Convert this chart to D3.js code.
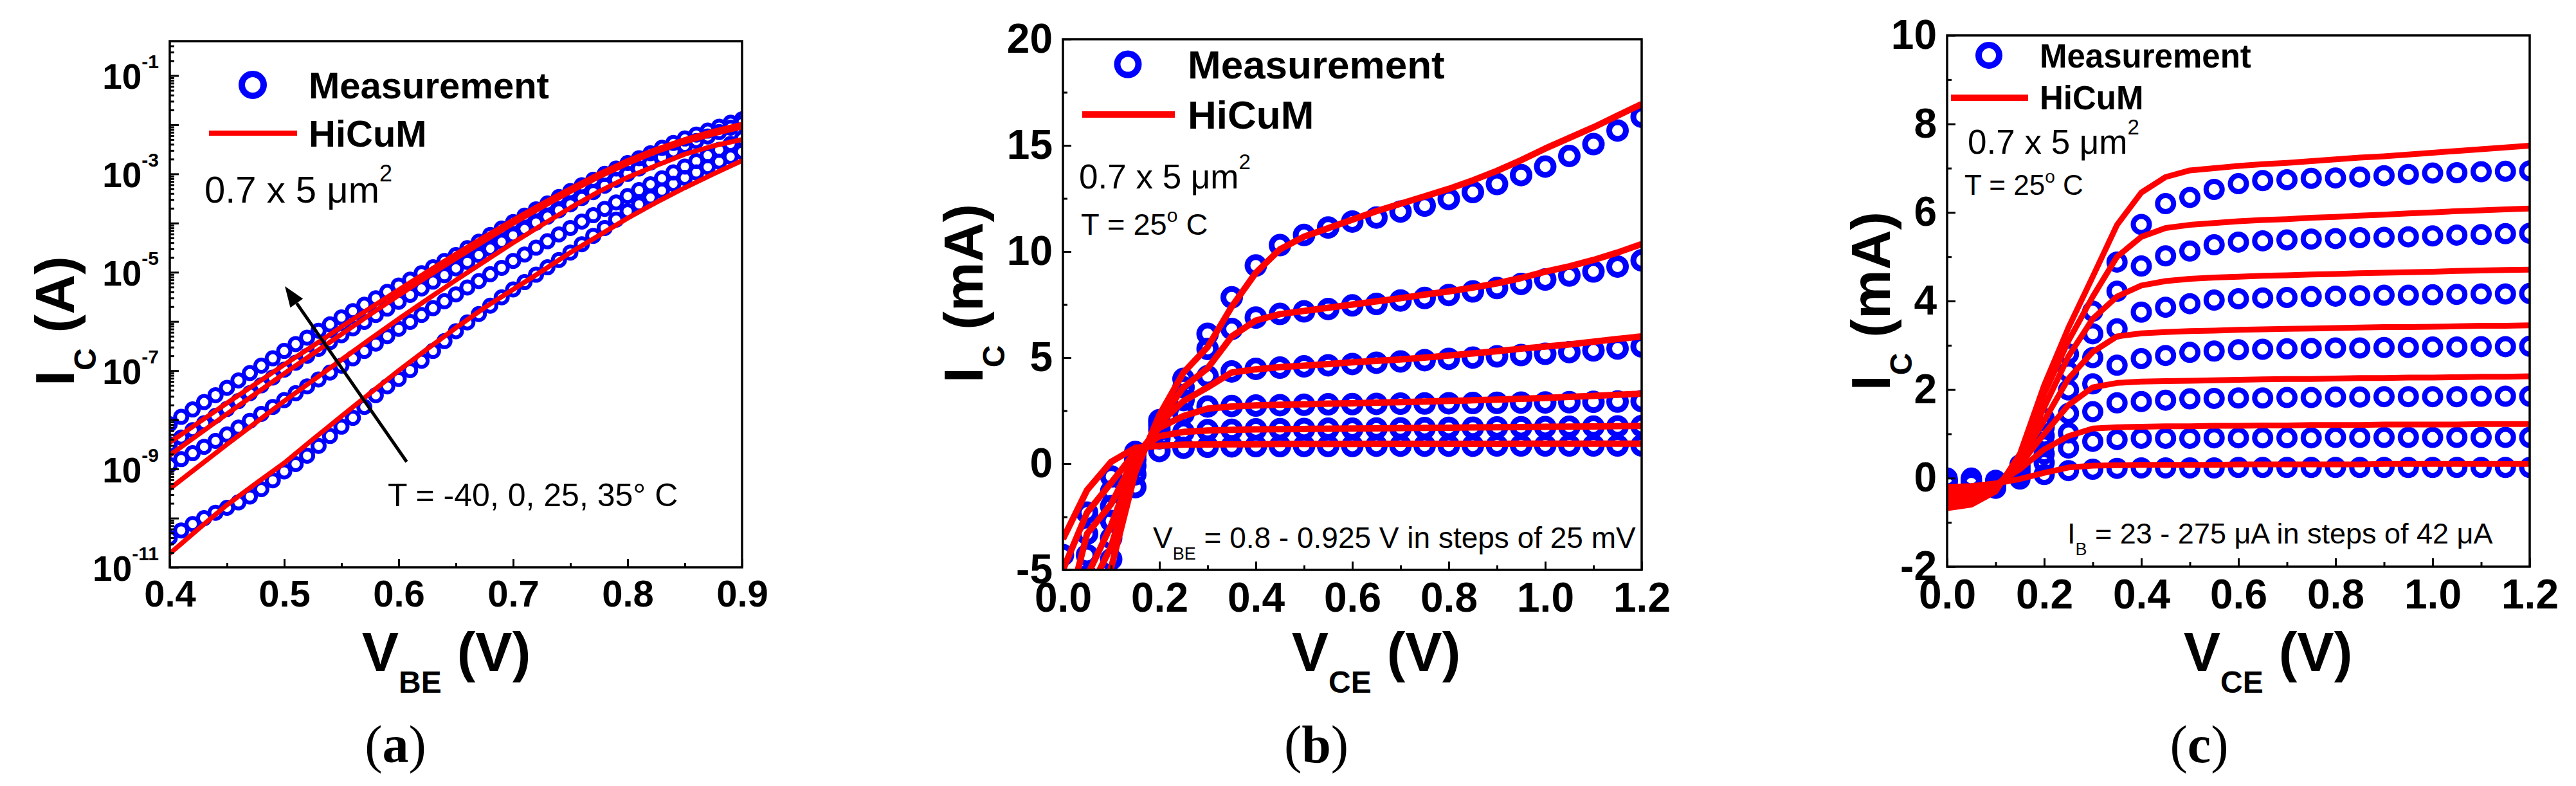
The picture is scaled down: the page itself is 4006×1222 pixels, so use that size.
<!DOCTYPE html>
<html>
<head>
<meta charset="utf-8">
<script src="https://cdn.jsdelivr.net/npm/d3@7"></script>
<style>
  html, body { margin: 0; padding: 0; background: #fff; }
  svg { display: block; }
  text { white-space: pre; }
</style>
</head>
<body>
<div id="chart"></div>
<script>
// ---------------- data (a): Ic vs VBE, log10(Ic / A) ----------------
const vbeMeas = [0.40, 0.41, 0.42, 0.43, 0.44, 0.45, 0.46, 0.47, 0.48, 0.49,
                 0.50, 0.51, 0.52, 0.53, 0.54, 0.55, 0.56, 0.57, 0.58, 0.59,
                 0.60, 0.61, 0.62, 0.63, 0.64, 0.65, 0.66, 0.67, 0.68, 0.69,
                 0.70, 0.71, 0.72, 0.73, 0.74, 0.75, 0.76, 0.77, 0.78, 0.79,
                 0.80, 0.81, 0.82, 0.83, 0.84, 0.85, 0.86, 0.87, 0.88, 0.89, 0.90];
const vbeModel = [0.400, 0.425, 0.450, 0.475, 0.500, 0.525, 0.550, 0.575, 0.600, 0.625,
                  0.650, 0.675, 0.700, 0.725, 0.750, 0.775, 0.800, 0.825, 0.850, 0.875, 0.900];
const tempsA = ["-40", "0", "25", "35"];

const logMeasM40 = [-10.40, -10.25, -10.12, -10.00, -9.89, -9.79, -9.68, -9.56, -9.41, -9.23,
                    -9.05, -8.90, -8.73, -8.53, -8.33, -8.14, -7.96, -7.74, -7.50, -7.32,
                    -7.17, -6.99, -6.80, -6.60, -6.40, -6.20, -6.02, -5.85, -5.68, -5.51,
                    -5.35, -5.20, -5.05, -4.90, -4.75, -4.60, -4.43, -4.26, -4.10, -3.93,
                    -3.76, -3.62, -3.48, -3.34, -3.20, -3.08, -2.97, -2.86, -2.75, -2.65, -2.55];
const logMeas0 = [-8.92, -8.80, -8.68, -8.55, -8.43, -8.30, -8.16, -8.02, -7.88, -7.74,
                  -7.60, -7.46, -7.32, -7.18, -7.04, -6.90, -6.75, -6.60, -6.45, -6.30,
                  -6.15, -6.01, -5.87, -5.73, -5.59, -5.45, -5.31, -5.18, -5.04, -4.91,
                  -4.77, -4.64, -4.50, -4.37, -4.23, -4.10, -3.97, -3.84, -3.71, -3.58,
                  -3.45, -3.33, -3.21, -3.09, -2.97, -2.85, -2.74, -2.62, -2.51, -2.39, -2.28];
const logMeas25 = [-8.50, -8.36, -8.21, -8.07, -7.92, -7.78, -7.62, -7.46, -7.30, -7.14,
                   -6.98, -6.84, -6.70, -6.56, -6.42, -6.28, -6.14, -6.01, -5.87, -5.74,
                   -5.60, -5.46, -5.33, -5.19, -5.06, -4.92, -4.79, -4.65, -4.52, -4.38,
                   -4.25, -4.12, -3.99, -3.87, -3.74, -3.62, -3.49, -3.37, -3.24, -3.12,
                   -3.00, -2.89, -2.77, -2.66, -2.54, -2.43, -2.33, -2.24, -2.15, -2.06, -1.97];
const logMeas35 = [-8.09, -7.94, -7.79, -7.64, -7.50, -7.35, -7.20, -7.05, -6.90, -6.75,
                   -6.60, -6.46, -6.33, -6.19, -6.06, -5.92, -5.79, -5.66, -5.53, -5.40,
                   -5.27, -5.15, -5.02, -4.90, -4.77, -4.65, -4.51, -4.38, -4.24, -4.11,
                   -3.98, -3.85, -3.72, -3.60, -3.47, -3.35, -3.23, -3.12, -3.00, -2.89,
                   -2.78, -2.68, -2.58, -2.47, -2.37, -2.28, -2.20, -2.12, -2.04, -1.96, -1.89];

const logModelM40 = [-10.72, -10.22, -9.73, -9.30, -8.88, -8.40, -7.93, -7.46, -7.00, -6.56,
                     -6.13, -5.72, -5.35, -4.98, -4.60, -4.25, -3.90, -3.58, -3.28, -3.00, -2.73];
const logModel0 = [-9.40, -8.95, -8.50, -8.06, -7.62, -7.20, -6.78, -6.36, -5.95, -5.55,
                   -5.16, -4.78, -4.40, -4.04, -3.69, -3.36, -3.07, -2.83, -2.60, -2.43, -2.30];
const logModel25 = [-8.72, -8.30, -7.88, -7.47, -7.06, -6.66, -6.26, -5.86, -5.47, -5.09,
                    -4.72, -4.36, -4.01, -3.68, -3.36, -3.06, -2.79, -2.55, -2.35, -2.19, -2.05];
const logModel35 = [-8.46, -8.06, -7.66, -7.27, -6.88, -6.50, -6.11, -5.73, -5.36, -4.99,
                    -4.63, -4.28, -3.94, -3.61, -3.30, -3.00, -2.73, -2.50, -2.30, -2.13, -1.99];

// ---------------- data (b) and (c): Ic (mA) vs VCE ----------------
const vce = [0, 0.05, 0.1, 0.15, 0.2, 0.25, 0.3, 0.35, 0.4, 0.45, 0.5, 0.55, 0.6,
             0.65, 0.7, 0.75, 0.8, 0.85, 0.9, 0.95, 1.0, 1.05, 1.1, 1.15, 1.2];

// (b) VBE = 0.8 ... 0.925 V
const measB800 = [-4.3, -2.3, -0.6, 0.55, 0.6, 0.75, 0.8, 0.82, 0.83, 0.83, 0.84, 0.84, 0.84,
                  0.85, 0.85, 0.85, 0.85, 0.85, 0.86, 0.86, 0.86, 0.86, 0.86, 0.86, 0.86];
const measB825 = [-5.8, -3.3, -1.3, 0.45, 1.2, 1.5, 1.58, 1.6, 1.62, 1.63, 1.64, 1.65, 1.65,
                  1.66, 1.67, 1.68, 1.69, 1.7, 1.71, 1.72, 1.73, 1.74, 1.75, 1.76, 1.77];
const measB850 = [-7.5, -4.3, -2.0, 0.2, 1.6, 2.35, 2.7, 2.72, 2.74, 2.76, 2.78, 2.8, 2.81,
                  2.82, 2.83, 2.84, 2.85, 2.86, 2.87, 2.88, 2.89, 2.9, 2.92, 2.93, 2.95];
const measB875 = [-9.0, -5.3, -2.7, -0.1, 1.8, 3.0, 4.12, 4.35, 4.47, 4.53, 4.59, 4.64, 4.7,
                  4.76, 4.82, 4.88, 4.94, 5.0, 5.06, 5.12, 5.18, 5.26, 5.34, 5.43, 5.53];
const measB900 = [-10.5, -6.3, -3.5, -0.5, 1.95, 3.6, 5.41, 6.35, 6.89, 7.06, 7.18, 7.29, 7.46,
                  7.53, 7.69, 7.81, 7.95, 8.12, 8.28, 8.47, 8.68, 8.87, 9.06, 9.29, 9.58];
const measB925 = [-12.0, -7.5, -4.5, -1.1, 2.05, 4.0, 6.12, 7.84, 9.34, 10.3, 10.78, 11.13, 11.41,
                  11.6, 11.88, 12.16, 12.47, 12.8, 13.18, 13.6, 14.0, 14.5, 15.06, 15.7, 16.35];

const modelB800 = [-3.55, -1.24, 0.09, 0.75, 0.85, 0.9, 0.91, 0.92, 0.92, 0.93, 0.93, 0.93, 0.93,
                   0.94, 0.94, 0.94, 0.94, 0.94, 0.94, 0.95, 0.95, 0.95, 0.95, 0.95, 0.95];
const modelB825 = [-5.0, -2.3, -0.9, 0.55, 1.3, 1.5, 1.57, 1.6, 1.62, 1.63, 1.64, 1.65, 1.66,
                   1.67, 1.68, 1.69, 1.7, 1.71, 1.72, 1.73, 1.74, 1.75, 1.76, 1.77, 1.78];
const modelB850 = [-7.77, -3.3, -1.9, 0.35, 1.7, 2.25, 2.6, 2.7, 2.75, 2.78, 2.8, 2.83, 2.85,
                   2.88, 2.9, 2.93, 2.96, 2.99, 3.02, 3.06, 3.1, 3.15, 3.2, 3.25, 3.3];
const modelB875 = [-10.0, -5.29, -2.9, 0.1, 1.9, 2.95, 3.6, 4.3, 4.45, 4.55, 4.62, 4.7, 4.78,
                   4.85, 4.92, 5.0, 5.1, 5.2, 5.3, 5.42, 5.52, 5.62, 5.75, 5.88, 6.0];
const modelB900 = [-12.0, -6.2, -3.9, -0.15, 2.0, 3.6, 4.5, 6.0, 6.75, 7.05, 7.2, 7.35, 7.5,
                   7.65, 7.8, 7.97, 8.12, 8.3, 8.5, 8.75, 9.05, 9.3, 9.6, 9.95, 10.35];
const modelB925 = [-14.0, -8.0, -4.9, -0.4, 2.3, 4.3, 5.5, 7.4, 9.0, 10.1, 10.7, 11.1, 11.5,
                   11.9, 12.25, 12.6, 12.95, 13.35, 13.8, 14.3, 14.85, 15.35, 15.85, 16.4, 16.95];

// (c) IB = 23 ... 275 uA
const measC23 = [0.0, 0.0, -0.05, -0.02, 0.08, 0.17, 0.2, 0.22, 0.23, 0.23, 0.23, 0.23, 0.24,
                 0.24, 0.24, 0.24, 0.24, 0.24, 0.24, 0.24, 0.24, 0.24, 0.24, 0.24, 0.24];
const measC65 = [-0.02, -0.02, -0.08, 0.05, 0.35, 0.68, 0.83, 0.87, 0.9, 0.9, 0.9, 0.91, 0.91,
                 0.91, 0.91, 0.91, 0.92, 0.92, 0.92, 0.92, 0.92, 0.92, 0.92, 0.92, 0.92];
const measC107 = [-0.04, -0.04, -0.11, 0.1, 0.55, 1.02, 1.5, 1.7, 1.73, 1.76, 1.79, 1.8, 1.81,
                  1.81, 1.82, 1.82, 1.83, 1.83, 1.84, 1.84, 1.84, 1.84, 1.85, 1.85, 1.85];
const measC149 = [-0.06, -0.06, -0.14, 0.15, 0.75, 1.46, 2.13, 2.55, 2.7, 2.77, 2.84, 2.87, 2.9,
                  2.91, 2.92, 2.93, 2.94, 2.94, 2.95, 2.95, 2.96, 2.96, 2.97, 2.97, 2.98];
const measC191 = [-0.08, -0.08, -0.17, 0.2, 0.95, 1.99, 2.72, 3.37, 3.75, 3.86, 3.94, 4.02, 4.05,
                  4.07, 4.08, 4.1, 4.11, 4.12, 4.13, 4.13, 4.14, 4.15, 4.16, 4.16, 4.17];
const measC233 = [-0.1, -0.1, -0.2, 0.25, 1.15, 2.4, 3.26, 4.22, 4.79, 5.02, 5.13, 5.27, 5.33,
                  5.36, 5.38, 5.4, 5.41, 5.43, 5.44, 5.45, 5.47, 5.49, 5.5, 5.52, 5.53];
const measC275 = [-0.12, -0.12, -0.23, 0.3, 1.35, 2.8, 3.77, 4.88, 5.73, 6.2, 6.34, 6.52, 6.65,
                  6.72, 6.74, 6.77, 6.78, 6.8, 6.83, 6.86, 6.89, 6.9, 6.92, 6.93, 6.94];

const modelC23 = [-0.2, -0.18, -0.12, -0.02, 0.12, 0.24, 0.28, 0.29, 0.3, 0.3, 0.3, 0.3, 0.31,
                  0.31, 0.31, 0.31, 0.31, 0.31, 0.32, 0.32, 0.32, 0.32, 0.32, 0.32, 0.32];
const modelC65 = [-0.28, -0.26, -0.15, 0.2, 0.65, 0.95, 1.12, 1.15, 1.16, 1.17, 1.17, 1.18, 1.18,
                  1.19, 1.19, 1.2, 1.2, 1.2, 1.21, 1.21, 1.21, 1.21, 1.22, 1.22, 1.22];
const modelC107 = [-0.36, -0.33, -0.18, 0.3, 1.0, 1.65, 2.05, 2.15, 2.18, 2.19, 2.2, 2.21, 2.22,
                   2.23, 2.24, 2.24, 2.25, 2.26, 2.26, 2.27, 2.27, 2.28, 2.29, 2.29, 2.3];
const modelC149 = [-0.44, -0.4, -0.21, 0.4, 1.3, 2.25, 2.85, 3.2, 3.27, 3.3, 3.32, 3.33, 3.35,
                   3.36, 3.37, 3.38, 3.39, 3.4, 3.41, 3.41, 3.42, 3.43, 3.44, 3.44, 3.45];
const modelC191 = [-0.52, -0.47, -0.24, 0.45, 1.6, 2.75, 3.6, 4.1, 4.35, 4.45, 4.5, 4.53, 4.55,
                   4.57, 4.58, 4.6, 4.61, 4.63, 4.64, 4.65, 4.66, 4.68, 4.69, 4.7, 4.71];
const modelC233 = [-0.6, -0.54, -0.27, 0.5, 1.9, 3.1, 4.1, 5.0, 5.45, 5.65, 5.72, 5.76, 5.8,
                   5.83, 5.85, 5.88, 5.9, 5.93, 5.95, 5.98, 6.0, 6.03, 6.05, 6.07, 6.09];
const modelC275 = [-0.68, -0.6, -0.3, 0.55, 2.1, 3.4, 4.55, 5.72, 6.45, 6.8, 6.95, 7.0, 7.05,
                   7.09, 7.12, 7.16, 7.2, 7.24, 7.27, 7.31, 7.35, 7.39, 7.43, 7.47, 7.51];

// ---------------- tick labels ----------------
const xTicksA = [0.4, 0.5, 0.6, 0.7, 0.8, 0.9];
const xMinorA = [0.45, 0.55, 0.65, 0.75, 0.85];
const yLabelExpA = [-1, -3, -5, -7, -9, -11];
const xTicksBC = [0, 0.2, 0.4, 0.6, 0.8, 1.0, 1.2];
const xMinorBC = [0.1, 0.3, 0.5, 0.7, 0.9, 1.1];
const yTicksB = [-5, 0, 5, 10, 15, 20];
const yMinorB = [-2.5, 2.5, 7.5, 12.5, 17.5];
const yTicksC = [-2, 0, 2, 4, 6, 8, 10];
const yMinorC = [-1, 1, 3, 5, 7, 9];

// ---------------- drawing ----------------
const W = 4006, H = 1222;
const BLUE = "#0000ff", RED = "#ff0000";
const SANS = "'Liberation Sans', Arial, sans-serif";
const SERIF = "'Liberation Serif', 'Times New Roman', serif";

const svg = d3.select("#chart").append("svg")
    .attr("width", W)
    .attr("height", H)
    .style("font-family", SANS);
svg.append("rect").attr("width", W).attr("height", H).attr("fill", "#fff");

// text with sub/superscript parts
function richText(g, x, y, parts, o) {
    const t = g.append("text")
        .attr("x", x).attr("y", y)
        .attr("font-size", o.size)
        .attr("font-weight", o.bold ? "bold" : "normal")
        .attr("text-anchor", o.anchor || "start")
        .style("font-family", o.family || SANS);
    if (o.rotate) t.attr("transform", `rotate(-90,${x},${y})`);
    let off = 0;
    parts.forEach(p => {
        const target = p.sub ? o.subDy : p.sup ? -o.supDy : 0;
        t.append("tspan")
            .text(p.t)
            .attr("dy", target - off)
            .attr("font-size", (p.sub || p.sup) ? o.small : o.size)
            .attr("font-weight", p.bold ? "bold" : null);
        off = target;
    });
    return t;
}

function makePanel(id, x, y) {
    const g = svg.append("g");
    const [x0, x1] = x.range(), [yb, yt] = y.range();
    svg.append("clipPath").attr("id", id).append("rect")
        .attr("x", x0).attr("y", yt).attr("width", x1 - x0).attr("height", yb - yt);
    const plot = g.append("g").attr("clip-path", `url(#${id})`);
    return { g, plot };
}

function styleAxis(sel, fs) {
    sel.attr("font-family", null).attr("font-size", null);
    sel.select(".domain").remove();
    sel.selectAll("line").attr("stroke-width", 3);
    sel.selectAll("text")
        .attr("font-size", fs)
        .attr("font-weight", "bold")
        .style("font-family", SANS)
        .attr("fill", "#000");
}

function linearAxes(g, x, y, cfg) {
    const yb = y.range()[0], xl = x.range()[0];
    g.append("g").attr("transform", `translate(0,${yb})`)
        .call(d3.axisBottom(x).tickValues(cfg.xMinor).tickSize(-7).tickFormat(""))
        .call(s => styleAxis(s, cfg.fs));
    g.append("g").attr("transform", `translate(0,${yb})`)
        .call(d3.axisBottom(x).tickValues(cfg.xMajor).tickSize(-13).tickPadding(20)
            .tickFormat(cfg.xFormat))
        .call(s => styleAxis(s, cfg.fs));
    if (cfg.yMajor) {
        g.append("g").attr("transform", `translate(${xl},0)`)
            .call(d3.axisLeft(y).tickValues(cfg.yMinor).tickSize(-7).tickFormat(""))
            .call(s => styleAxis(s, cfg.fs));
        g.append("g").attr("transform", `translate(${xl},0)`)
            .call(d3.axisLeft(y).tickValues(cfg.yMajor).tickSize(-13).tickPadding(16)
                .tickFormat(d => String(d)))
            .call(s => styleAxis(s, cfg.fs));
    }
}

function frame(g, x, y) {
    const [x0, x1] = x.range(), [yb, yt] = y.range();
    g.append("rect")
        .attr("x", x0).attr("y", yt)
        .attr("width", x1 - x0).attr("height", yb - yt)
        .attr("fill", "none").attr("stroke", "#000").attr("stroke-width", 3.5);
}

function legend(g, cx, cy, r, sw, lx0, lx1, ly, lw, tx, ty1, ty2, fs) {
    g.append("circle").attr("cx", cx).attr("cy", cy).attr("r", r)
        .attr("fill", "none").attr("stroke", BLUE).attr("stroke-width", sw);
    g.append("text").attr("x", tx).attr("y", ty1).attr("font-size", fs)
        .attr("font-weight", "bold").text("Measurement");
    g.append("line").attr("x1", lx0).attr("x2", lx1).attr("y1", ly).attr("y2", ly)
        .attr("stroke", RED).attr("stroke-width", lw);
    g.append("text").attr("x", tx).attr("y", ty2).attr("font-size", fs)
        .attr("font-weight", "bold").text("HiCuM");
}

function axisTitles(g, xt, yt) {
    richText(g, xt.x, 1043, [{ t: "V" }, { t: xt.sub, sub: true }, { t: " (V)" }],
        { size: 86, small: 48, subDy: 34, bold: true, anchor: "middle" });
    richText(g, yt.x, yt.y, [{ t: "I" }, { t: "C", sub: true }, { t: yt.unit }],
        { size: 86, small: 48, subDy: 34, bold: true, anchor: "middle", rotate: true });
}

function caption(letter, cx) {
    richText(svg, cx, 1185, [{ t: "(" }, { t: letter, bold: true }, { t: ")" }],
        { size: 82, anchor: "middle", family: SERIF });
}

function drawSeries(plot, x, y, xs, meas, model, xsModel, r, sw, lw, yv) {
    meas.forEach(s => {
        plot.append("g").selectAll("circle")
            .data(s)
            .enter()
            .append("circle")
            .attr("cx", (d, i) => x(xs[i]))
            .attr("cy", d => y(yv(d)))
            .attr("r", r)
            .attr("fill", "none")
            .attr("stroke", BLUE)
            .attr("stroke-width", sw);
    });
    const line = d3.line()
        .x((d, i) => x(xsModel[i]))
        .y(d => y(yv(d)));
    model.forEach(s => {
        plot.append("path")
            .attr("d", line(s))
            .attr("fill", "none")
            .attr("stroke", RED)
            .attr("stroke-width", lw)
            .attr("stroke-linejoin", "round");
    });
}

// ---------- panel (a) ----------
{
    const x = d3.scaleLinear().domain([0.4, 0.9]).range([264, 1154]);
    const y = d3.scaleLog().domain([1e-11, 0.5]).range([882, 64]);
    const { g, plot } = makePanel("clipA", x, y);
    const pow = v => Math.pow(10, v);

    drawSeries(plot, x, y, vbeMeas,
        [logMeasM40, logMeas0, logMeas25, logMeas35],
        [logModelM40, logModel0, logModel25, logModel35],
        vbeModel, 9.5, 6, 7.5, pow);

    // arrow: increasing temperature
    const ax0 = x(0.607), ay0 = y(pow(-8.855));
    const ax1 = x(0.5006), ay1 = y(pow(-5.285));
    const ang = Math.atan2(ay1 - ay0, ax1 - ax0);
    const hl = 32, hw = 12;
    const bx = ax1 - hl * Math.cos(ang), by = ay1 - hl * Math.sin(ang);
    g.append("line").attr("x1", ax0).attr("y1", ay0).attr("x2", bx).attr("y2", by)
        .attr("stroke", "#000").attr("stroke-width", 5);
    g.append("polygon")
        .attr("points", [
            [ax1, ay1],
            [bx + hw * Math.sin(ang), by - hw * Math.cos(ang)],
            [bx - hw * Math.sin(ang), by + hw * Math.cos(ang)]
        ].map(p => p.join(",")).join(" "))
        .attr("fill", "#000");

    linearAxes(g, x, y, { xMajor: xTicksA, xMinor: xMinorA, fs: 58, xFormat: d3.format(".1f") });

    // log y axis
    const majors = [], minors = [];
    for (let k = -11; k <= -1; k++) {
        majors.push(pow(k));
        for (let m = 2; m <= 9; m++) if (m * pow(k) < 0.5) minors.push(m * pow(k));
    }
    g.append("g").attr("transform", "translate(264,0)")
        .call(d3.axisLeft(y).tickValues(minors).tickSize(-7).tickFormat(""))
        .call(s => styleAxis(s, 55));
    g.append("g").attr("transform", "translate(264,0)")
        .call(d3.axisLeft(y).tickValues(majors).tickSize(-14).tickFormat(""))
        .call(s => styleAxis(s, 55));
    yLabelExpA.forEach(e => {
        richText(g, 247, y(pow(e)) + 21, [{ t: "10" }, { t: String(e), sup: true }],
            { size: 55, small: 30, supDy: 32, bold: true, anchor: "end" });
    });

    frame(g, x, y);
    legend(g, 393, 132, 17, 10, 325, 462, 207, 8, 480, 153, 228, 58);
    richText(g, 318, 315, [{ t: "0.7 x 5 μm" }, { t: "2", sup: true }],
        { size: 58, small: 36, supDy: 33 });
    g.append("text").attr("x", 603).attr("y", 787).attr("font-size", 50)
        .text("T = -40, 0, 25, 35° C");

    axisTitles(g, { x: 694, sub: "BE" }, { x: 115, y: 499, unit: " (A)" });
    caption("a", 615);
}

// ---------- panel (b) ----------
{
    const x = d3.scaleLinear().domain([0, 1.2]).range([1653, 2553]);
    const y = d3.scaleLinear().domain([-5, 20]).range([886, 61]);
    const { g, plot } = makePanel("clipB", x, y);

    drawSeries(plot, x, y, vce,
        [measB800, measB825, measB850, measB875, measB900, measB925],
        [modelB800, modelB825, modelB850, modelB875, modelB900, modelB925],
        vce, 13, 9, 10, d => d);

    linearAxes(g, x, y, {
        xMajor: xTicksBC, xMinor: xMinorBC, yMajor: yTicksB, yMinor: yMinorB,
        fs: 64, xFormat: d3.format(".1f")
    });
    frame(g, x, y);
    legend(g, 1754, 100, 16.5, 10, 1683, 1827, 178, 10, 1847, 122, 200, 62);
    richText(g, 1678, 293, [{ t: "0.7 x 5 μm" }, { t: "2", sup: true }],
        { size: 53, small: 33, supDy: 30 });
    richText(g, 1681, 365, [{ t: "T = 25" }, { t: "o", sup: true }, { t: " C" }],
        { size: 47, small: 30, supDy: 20 });
    richText(g, 1793, 852, [{ t: "V" }, { t: "BE", sub: true },
        { t: " = 0.8 - 0.925 V in steps of 25 mV" }],
        { size: 46, small: 27, subDy: 18 });

    axisTitles(g, { x: 2140, sub: "CE" }, { x: 1528, y: 456, unit: " (mA)" });
    caption("b", 2047);
}

// ---------- panel (c) ----------
{
    const x = d3.scaleLinear().domain([0, 1.2]).range([3028, 3934]);
    const y = d3.scaleLinear().domain([-2, 10]).range([881, 55]);
    const { g, plot } = makePanel("clipC", x, y);

    drawSeries(plot, x, y, vce,
        [measC23, measC65, measC107, measC149, measC191, measC233, measC275],
        [modelC23, modelC65, modelC107, modelC149, modelC191, modelC233, modelC275],
        vce, 12.5, 8, 9, d => d);

    linearAxes(g, x, y, {
        xMajor: xTicksBC, xMinor: xMinorBC, yMajor: yTicksC, yMinor: yMinorC,
        fs: 64, xFormat: d3.format(".1f")
    });
    frame(g, x, y);
    legend(g, 3093, 86, 16, 10, 3034, 3154, 152, 10, 3172, 105, 170, 51);
    richText(g, 3060, 239, [{ t: "0.7 x 5 μm" }, { t: "2", sup: true }],
        { size: 53, small: 33, supDy: 30 });
    richText(g, 3055, 303, [{ t: "T = 25" }, { t: "o", sup: true }, { t: " C" }],
        { size: 44, small: 28, supDy: 19 });
    richText(g, 3215, 845, [{ t: "I" }, { t: "B", sub: true },
        { t: " = 23 - 275 μA in steps of 42 μA" }],
        { size: 45, small: 27, subDy: 18 });

    axisTitles(g, { x: 3527, sub: "CE" }, { x: 2939, y: 468, unit: " (mA)" });
    caption("c", 3420);
}
</script>
</body>
</html>
